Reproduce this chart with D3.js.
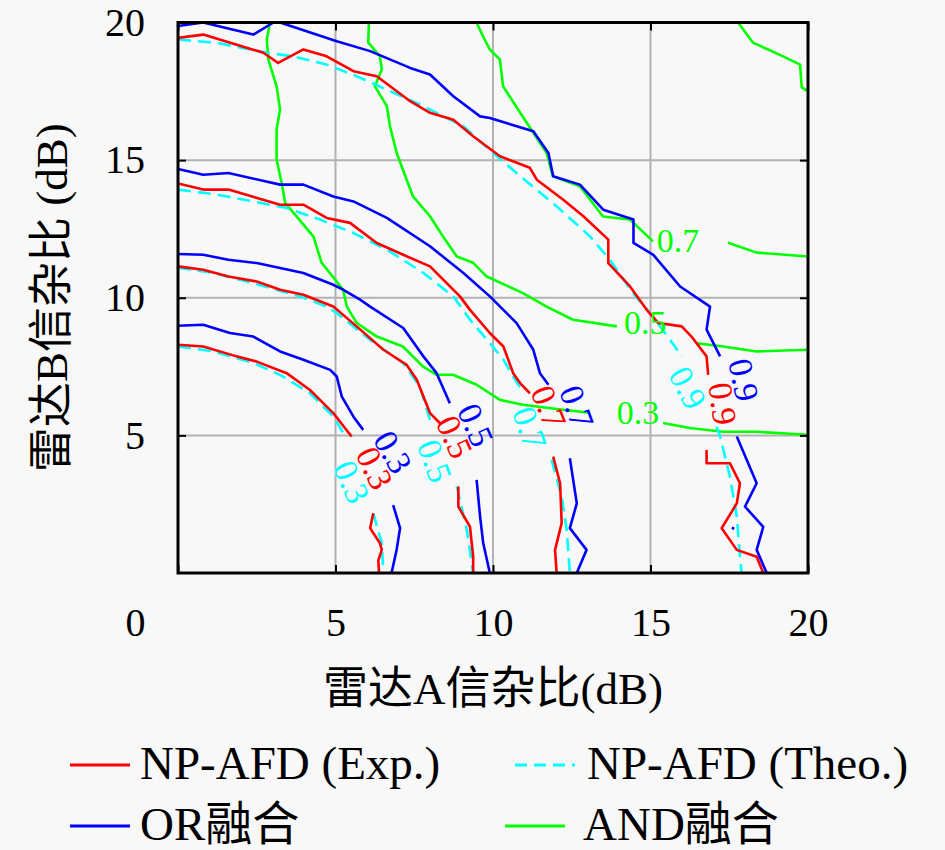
<!DOCTYPE html>
<html lang="zh">
<head>
<meta charset="UTF-8">
<title>NP-AFD contour</title>
<script src="https://d3js.org/d3.v7.min.js"></script>
<style>
  body { margin: 0; background: #f8f8f8; }
  text { font-family: "Liberation Serif", "Noto Sans CJK SC", serif; }
</style>
</head>
<body>
<div id="chart"></div>
<script>
// contour levels shown on the labels
const levelText = ["0.3", "0.5", "0.7", "0.9"];

// NP-AFD (Exp.) contours, [SNR A, SNR B] in dB, split where the label sits
const exp03 = [
  [[0,8.29],[0.80,8.23],[1.86,7.87],[2.50,7.68],[3.45,7.26],[4.19,6.65],[4.93,5.81],[5.51,4.96]],
  [[6.20,2.17],[6.10,1.63],[6.41,1.08],[6.47,0.84],[6.36,0.47],[6.38,0]]
];
const exp05 = [
  [[0,11.14],[0.80,11.02],[1.60,10.77],[2.50,10.59],[3.24,10.29],[3.98,10.11],[4.93,9.68],[5.67,8.96],[6.52,8.11],[7.26,7.56],[7.58,7.02],[8.00,5.81],[8.32,5.44]],
  [[8.90,3.14],[8.90,2.41],[9.27,1.68],[9.37,0.59],[9.37,0]]
];
const exp07 = [
  [[0,14.15],[0.80,13.93],[1.60,13.93],[3.24,13.38],[3.98,13.38],[4.72,12.90],[5.46,12.72],[6.31,11.99],[7.15,11.56],[8.00,11.14],[8.95,10.05],[9.27,9.56],[9.90,8.72],[10.33,8.23],[10.64,7.26],[10.86,6.90],[11.17,6.53]],
  [[11.91,4.23],[12.13,3.26],[12.18,1.81],[11.97,0.84],[12.02,0]]
];
const exp09 = [
  [[0,19.44],[0.80,19.56],[2.71,18.90],[3.18,18.53],[3.98,19.02],[4.72,18.77],[5.57,18.23],[6.31,18.05],[7.37,17.14],[8.00,16.72],[8.74,16.47],[9.37,15.87],[10.22,15.14],[11.17,14.72],[11.39,14.29],[12.23,13.56],[12.87,12.96],[13.66,12.11],[13.66,11.26],[14.35,10.41],[14.88,9.56],[15.25,9.08],[15.99,8.96],[16.30,8.59],[16.78,7.87],[16.83,7.20]],
  [[16.78,4.47],[16.78,3.99],[17.52,3.99],[17.84,3.26],[17.74,2.53],[17.26,1.63],[17.74,0.84],[18.37,0.59],[18.58,0]]
];

// NP-AFD (Theo.)
const theo03 = [
  [[0,8.23],[1.12,8.05],[2.39,7.63],[3.24,7.20],[4.19,6.53],[4.93,5.68],[5.25,5.08]],
  [[6.20,2.17],[6.47,1.08],[6.52,0]]
];
const theo05 = [
  [[0,11.09],[1.12,10.90],[2.39,10.53],[3.87,10.05],[4.72,9.68],[5.04,9.44],[6.10,8.47],[7.15,7.63],[7.68,6.77],[8.00,5.56]],
  [[8.85,3.14],[9.17,1.56],[9.37,0]]
];
const theo07 = [
  [[0,13.93],[1.23,13.75],[2.39,13.50],[3.45,13.26],[4.51,12.84],[5.57,12.35],[6.63,11.75],[7.79,10.90],[8.74,10.05],[9.27,9.20],[9.90,8.35],[10.33,7.75],[10.64,7.14],[10.91,6.65]],
  [[11.86,4.11],[12.18,2.77],[12.34,1.56],[12.44,0]]
];
const theo09 = [
  [[0,19.38],[1.23,19.26],[2.82,18.90],[3.66,18.77],[4.72,18.47],[5.67,18.05],[6.63,17.56],[7.79,16.96],[9.06,16.23],[10.06,15.20],[10.75,14.53],[12.02,13.32],[13.08,12.23],[13.71,11.38],[14.44,10.18],[15.08,9.31],[15.62,8.47],[15.99,7.87]],
  [[17.10,5.32],[17.21,4.96],[17.52,3.50],[17.74,2.05],[17.84,0.59],[17.89,0]]
];

// OR fusion
const or03 = [
  [[0,8.98],[0.80,9.02],[1.65,8.72],[2.39,8.59],[3.24,8.05],[3.98,7.75],[4.83,7.38],[5.04,7.14],[5.20,6.41],[5.57,5.68],[5.88,5.20]],
  [[6.83,2.47],[7.05,1.63],[6.94,0.84],[6.78,0]]
];
const or05 = [
  [[0,11.59],[0.80,11.56],[1.60,11.38],[2.50,11.26],[3.98,10.90],[4.93,10.47],[5.25,10.29],[5.78,9.93],[6.10,9.68],[7.15,8.90],[7.79,7.87],[8.21,7.26],[8.63,6.17]],
  [[9.48,3.38],[9.59,2.05],[9.69,1.08],[9.90,0]]
];
const or07 = [
  [[0,14.68],[0.80,14.47],[1.60,14.53],[3.24,14.11],[3.98,14.11],[4.93,13.68],[5.57,13.50],[6.63,12.90],[8.00,11.87],[9.06,10.90],[9.90,10.05],[10.75,9.08],[11.28,8.11],[11.49,7.26],[11.76,6.84]],
  [[12.44,4.17],[12.66,2.53],[12.44,1.63],[12.97,0.84],[12.66,0]]
];
const or09 = [
  [[0,19.87],[0.80,20],[2.39,19.56],[3.03,20],[3.24,20],[5.04,19.32],[6.10,18.96],[7.37,18.35],[8.00,18.11],[8.74,17.32],[9.59,16.59],[9.90,16.53],[11.28,16.05],[11.76,15.26],[11.91,14.41],[12.76,14.11],[13.50,13.20],[14.46,12.84],[14.46,11.99],[15.09,11.56],[15.94,10.41],[16.89,9.68],[16.78,8.84],[17.21,7.87]],
  [[17.74,4.96],[18.37,3.26],[18.00,2.41],[18.58,1.68],[18.37,0.84],[18.69,0]],
  [[17.58,1.64],[17.66,1.61]]   // tiny closed blob
];

// AND fusion
const and03 = [
  [[2.92,20],[2.82,19.38],[2.87,18.65],[3.13,17.68],[3.24,16.84],[3.13,16.11],[3.13,15.02],[3.29,14.18],[3.40,13.45],[3.77,12.95],[4.30,12.22],[4.56,11.27],[4.92,10.76],[5.24,10.29],[5.36,9.68],[5.67,9.09],[6.31,8.59],[7.14,8.23],[7.78,7.50],[8.21,7.20],[8.73,7.20],[9.48,6.84],[10.22,6.29],[10.95,6.11],[12.22,5.93],[13.08,5.82]],
  [[15.40,5.45],[16.25,5.27],[17.30,5.13],[18.38,5.13],[20,5.02]]
];
const and05 = [
  [[6.06,20],[6.04,19.27],[6.41,18.77],[6.47,18.29],[6.25,17.68],[6.63,16.96],[6.73,16.23],[6.94,15.27],[7.14,14.65],[7.46,13.68],[8.00,12.96],[8.41,12.23],[8.85,11.50],[9.37,11.27],[9.80,10.77],[10.95,10.17],[11.70,9.68],[12.54,9.20],[13.93,8.96]],
  [[16.47,8.35],[17.30,8.23],[18.37,8.05],[20,8.11]]
];
const and07 = [
  [[9.48,20],[9.68,19.50],[9.90,19.02],[10.22,18.65],[10.32,17.68],[11.07,16.36],[11.70,15.27],[11.90,14.41],[12.76,14.05],[13.49,12.95],[14.35,12.84],[15.08,12.05]],
  [[17.46,12.00],[18.37,11.64],[20,11.50]]
];
const and09 = [
  [[17.78,20],[18.25,19.27],[19.21,18.77],[19.75,18.47],[19.80,17.64],[20,17.50]]
];

// inline label positions (data units) and rotation in degrees
const expLabelPos = [[6.25,3.82],[8.79,4.95],[11.78,6.04],[17.30,6.15]];
const expLabelRot = [65, 66, 68, 82];
const theoLabelPos = [[5.52,3.31],[8.16,4.07],[11.17,5.27],[16.19,6.73]];
const theoLabelRot = [66, 70, 70, 62];
const orLabelPos = [[6.83,4.40],[9.46,5.38],[12.67,6.04],[17.97,7.02]];
const orLabelRot = [60, 66, 70, 78];
const andLabelPos = [[14.60,5.85],[14.83,9.13],[15.87,12.11]];
const andLabelText = ["0.3", "0.5", "0.7"];

const xTicks = [0, 5, 10, 15, 20];
const yTicks = [5, 10, 15, 20];

const width = 945, height = 850;
const margin = { left: 178, right: 808, top: 22.5, bottom: 573 };

const svg = d3.select("#chart").append("svg")
  .attr("width", width)
  .attr("height", height);

svg.append("rect")
  .attr("width", width).attr("height", height)
  .attr("fill", "#f8f8f8");

const x = d3.scaleLinear().domain([0, 20]).range([margin.left, margin.right]);
const y = d3.scaleLinear().domain([0, 20]).range([margin.bottom, margin.top]);

svg.append("clipPath").attr("id", "plot")
  .append("rect")
  .attr("x", margin.left).attr("y", margin.top)
  .attr("width", margin.right - margin.left)
  .attr("height", margin.bottom - margin.top);

// grid
const grid = svg.append("g")
  .attr("stroke", "#b2b2b2")
  .attr("stroke-width", 2);
grid.selectAll(".gx").data([5, 10, 15]).join("line")
  .attr("class", "gx")
  .attr("x1", d => x(d)).attr("x2", d => x(d))
  .attr("y1", margin.top).attr("y2", margin.bottom);
grid.selectAll(".gy").data([5, 10, 15]).join("line")
  .attr("class", "gy")
  .attr("x1", margin.left).attr("x2", margin.right)
  .attr("y1", d => y(d)).attr("y2", d => y(d));

const line = d3.line().x(d => x(d[0])).y(d => y(d[1]));

const series = [
  { segs: [and03, and05, and07, and09], color: "#00ff00", dash: null },
  { segs: [theo03, theo05, theo07, theo09], color: "#00ffff", dash: "13,7" },
  { segs: [exp03, exp05, exp07, exp09], color: "#ff0000", dash: null },
  { segs: [or03, or05, or07, or09], color: "#0000ff", dash: null }
];

const lines = svg.append("g")
  .attr("clip-path", "url(#plot)")
  .attr("fill", "none")
  .attr("stroke-width", 2.6)
  .attr("stroke-linejoin", "round");

series.forEach(s => {
  lines.append("g")
    .attr("stroke", s.color)
    .attr("stroke-dasharray", s.dash)
    .selectAll("path")
    .data(s.segs.flat())
    .join("path")
    .attr("d", line);
});

// contour labels
const labelSets = [
  { pos: expLabelPos, rot: expLabelRot, text: levelText, color: "#ff0000" },
  { pos: theoLabelPos, rot: theoLabelRot, text: levelText, color: "#00ffff" },
  { pos: orLabelPos, rot: orLabelRot, text: levelText, color: "#0000ff" },
  { pos: andLabelPos, rot: [0, 0, 0], text: andLabelText, color: "#00ff00" }
];

labelSets.forEach(s => {
  svg.append("g")
    .attr("font-size", 34)
    .attr("fill", s.color)
    .attr("text-anchor", "middle")
    .selectAll("text")
    .data(s.pos)
    .join("text")
    .attr("transform", (d, i) => `translate(${x(d[0])},${y(d[1])}) rotate(${s.rot[i]})`)
    .attr("dy", "0.35em")
    .text((d, i) => s.text[i]);
});

// axes: inward ticks on all four sides
const tick = -8;
const gx = svg.append("g")
  .attr("transform", `translate(0,${margin.bottom})`)
  .call(d3.axisBottom(x).tickValues(xTicks).tickSize(tick).tickPadding(35));
gx.selectAll(".tick").filter(d => d === 0).select("text").attr("x", -43);

svg.append("g")
  .attr("transform", `translate(${margin.left},0)`)
  .call(d3.axisLeft(y).tickValues(yTicks).tickSize(tick).tickPadding(33));

svg.append("g")
  .attr("transform", `translate(0,${margin.top})`)
  .call(d3.axisTop(x).tickValues(xTicks).tickSize(tick).tickFormat(""));
svg.append("g")
  .attr("transform", `translate(${margin.right},0)`)
  .call(d3.axisRight(y).tickValues(yTicks).tickSize(tick).tickFormat(""));

svg.selectAll(".domain").remove();
svg.selectAll(".tick line").attr("stroke", "#000").attr("stroke-width", 2);
svg.selectAll(".tick text")
  .attr("font-family", "Liberation Serif, serif")
  .attr("font-size", 40)
  .attr("fill", "#000");

// frame
svg.append("rect")
  .attr("x", margin.left).attr("y", margin.top)
  .attr("width", margin.right - margin.left)
  .attr("height", margin.bottom - margin.top)
  .attr("fill", "none")
  .attr("stroke", "#000")
  .attr("stroke-width", 3);

// axis titles
svg.append("text")
  .attr("x", (margin.left + margin.right) / 2)
  .attr("y", 704)
  .attr("text-anchor", "middle")
  .attr("font-size", 45)
  .text("雷达A信杂比(dB)");

svg.append("text")
  .attr("transform", `translate(67,${(margin.top + margin.bottom) / 2}) rotate(-90)`)
  .attr("text-anchor", "middle")
  .attr("font-size", 45)
  .text("雷达B信杂比 (dB)");

// legend
const legendItems = [
  { name: "NP-AFD (Exp.)", color: "#ff0000", dash: null, lx: 70, ly: 765, tx: 140 },
  { name: "NP-AFD (Theo.)", color: "#00ffff", dash: "12,7", lx: 515, ly: 765, tx: 587 },
  { name: "OR融合", color: "#0000ff", dash: null, lx: 70, ly: 826, tx: 140 },
  { name: "AND融合", color: "#00ff00", dash: null, lx: 505, ly: 826, tx: 583 }
];

const legend = svg.append("g").selectAll("g")
  .data(legendItems)
  .join("g");

legend.append("line")
  .attr("x1", d => d.lx).attr("x2", d => d.lx + 60)
  .attr("y1", d => d.ly).attr("y2", d => d.ly)
  .attr("stroke", d => d.color)
  .attr("stroke-width", 2.8)
  .attr("stroke-dasharray", d => d.dash);

legend.append("text")
  .attr("x", d => d.tx)
  .attr("y", d => d.ly + 14)
  .attr("font-size", 47)
  .text(d => d.name);
</script>
</body>
</html>
